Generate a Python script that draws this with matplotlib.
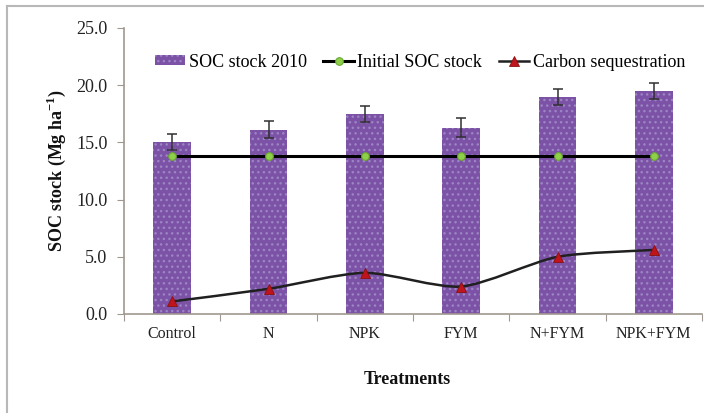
import numpy as np
import matplotlib
matplotlib.use("Agg")
import matplotlib.pyplot as plt
from matplotlib.path import Path
from matplotlib.patches import PathPatch, Patch
from matplotlib.lines import Line2D

plt.rcParams['font.family'] = ['Liberation Serif', 'DejaVu Serif']
plt.rcParams['mathtext.fontset'] = 'custom'
plt.rcParams['mathtext.rm'] = 'Liberation Serif'
plt.rcParams['mathtext.bf'] = 'Liberation Serif:bold'
plt.rcParams['hatch.linewidth'] = 1.0

# Data
treatments = ["Control", "N", "NPK", "FYM", "N+FYM", "NPK+FYM"]
soc_2010 = [15.0, 16.1, 17.5, 16.3, 19.0, 19.5]
soc_err = [0.7, 0.75, 0.7, 0.8, 0.7, 0.7]
initial_soc = [13.8, 13.8, 13.8, 13.8, 13.8, 13.8]
carbon_seq = [1.1, 2.2, 3.6, 2.4, 5.0, 5.6]
y_ticks = [0.0, 5.0, 10.0, 15.0, 20.0, 25.0]

bar_color = "#7b52a6"
dot_color = "#9d84c4"
axis_color = "#a09890"

fig = plt.figure(figsize=(7.04, 4.13), dpi=100)
ax = fig.add_axes([124 / 704, 1 - 314 / 413, 578 / 704, 286 / 413])

x = np.arange(len(treatments))

# Bars with dotted fill and error bars
ax.bar(x, soc_2010, width=0.39, color=bar_color, edgecolor=dot_color,
       linewidth=0, hatch='...', zorder=2)
ax.errorbar(x, soc_2010, yerr=soc_err, fmt='none', ecolor='#303030',
            elinewidth=1.1, capsize=3.5, capthick=1.1, zorder=3)

# Initial SOC stock line
init_style = dict(color='black', lw=2.2, marker='o', markersize=5.5,
                  markerfacecolor='#8fd04a', markeredgecolor='#6aa830',
                  markeredgewidth=0.8)
ax.plot(x, initial_soc, zorder=4, **init_style)


def smooth_path(xs, ys):
    """Catmull-Rom style smoothed curve through the points as cubic Beziers."""
    pts = np.column_stack([xs, ys]).astype(float)
    n = len(pts)
    verts = [pts[0]]
    codes = [Path.MOVETO]
    for i in range(n - 1):
        p0 = pts[i - 1] if i > 0 else pts[i]
        p1 = pts[i]
        p2 = pts[i + 1]
        p3 = pts[i + 2] if i + 2 < n else pts[i + 1]
        c1 = p1 + (p2 - p0) / 8.0
        c2 = p2 - (p3 - p1) / 8.0
        verts += [c1, c2, p2]
        codes += [Path.CURVE4] * 3
    return Path(verts, codes)


# Carbon sequestration smoothed line with triangle markers
seq_style = dict(marker='^', markersize=6.5, markerfacecolor='#c0141c',
                 markeredgecolor='#8a1010', markeredgewidth=0.6)
ax.add_patch(PathPatch(smooth_path(x, carbon_seq), facecolor='none',
                       edgecolor='#202020', lw=1.8, zorder=4))
ax.plot(x, carbon_seq, linestyle='none', zorder=5, **seq_style)

# Axes styling
ax.set_xlim(-0.5, len(treatments) - 0.5)
ax.set_ylim(0, 25)
ax.set_yticks(y_ticks)
ax.set_yticklabels([f"{v:.1f}" for v in y_ticks], fontsize=13)
ax.set_xticks(np.arange(len(treatments) + 1) - 0.5)
ax.set_xticklabels([])
ax.set_xticks(x, minor=True)
ax.set_xticklabels(treatments, minor=True, fontsize=11.5, color='#222222')
ax.tick_params(axis='x', which='minor', length=0, pad=9)
ax.tick_params(axis='x', which='major', length=5, color=axis_color,
               direction='out')
ax.tick_params(axis='y', length=5, color=axis_color, pad=7,
               labelcolor='#222222')
for side in ['top', 'right']:
    ax.spines[side].set_visible(False)
for side in ['left', 'bottom']:
    ax.spines[side].set_color(axis_color)
    ax.spines[side].set_linewidth(1.2)

ax.set_ylabel("SOC stock (Mg ha$^{\\mathbf{-1}}$)", fontsize=13,
              fontweight='bold', color='#111111')
ax.yaxis.set_label_coords(-0.097, 0.5)
fig.text(407 / 704, 1 - 379 / 413, "Treatments", fontsize=13,
         fontweight='bold', ha='center', va='center', color='#111111')

# Legend
bar_handle = Patch(facecolor=bar_color, edgecolor=dot_color, linewidth=0,
                   hatch='...')
init_handle = Line2D([], [], **init_style)
seq_handle = Line2D([], [], color='#202020', lw=1.8, **seq_style)
ax.legend(handles=[bar_handle, init_handle, seq_handle],
          labels=["SOC stock 2010", "Initial SOC stock",
                  "Carbon sequestration"],
          loc='center', bbox_to_anchor=(0.512, 0.881), ncol=3,
          frameon=False, fontsize=13, handlelength=1.7, handleheight=0.5,
          handletextpad=0.2, columnspacing=0.9)

# Outer frame along top and left edges
fig.add_artist(Line2D([7.5 / 704, 7.5 / 704], [0, 1 - 6 / 413],
                      transform=fig.transFigure, color='#b8b8b8', lw=1.5))
fig.add_artist(Line2D([7.5 / 704, 1], [1 - 6 / 413, 1 - 6 / 413],
                      transform=fig.transFigure, color='#b8b8b8', lw=1.5))

fig.savefig("out.png", dpi=100)
